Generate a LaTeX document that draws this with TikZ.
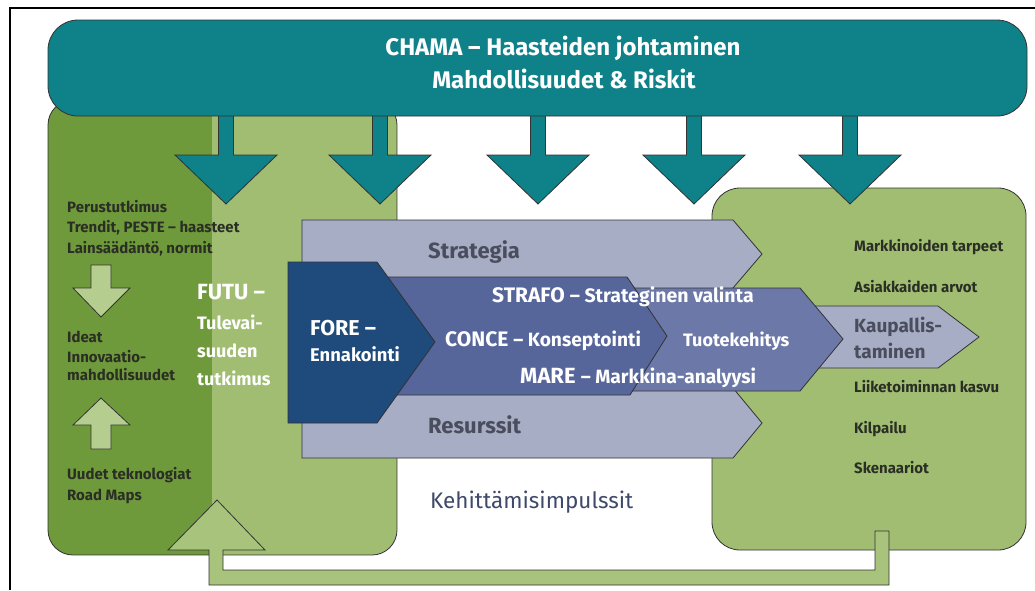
\documentclass[tikz,border=0pt]{standalone}
\usepackage{fontspec}
\setmainfont{Fira Sans}
\definecolor{teal}{HTML}{0E8189}
\definecolor{darkgreen}{HTML}{6F9A3C}
\definecolor{lightgreen}{HTML}{A0BD72}
\definecolor{loopgreen}{HTML}{A8C47C}
\definecolor{pale}{HTML}{B5CE8F}
\definecolor{greyblue}{HTML}{A8ADC6}
\definecolor{foreblue}{HTML}{1E4A7C}
\definecolor{conceblue}{HTML}{56669B}
\definecolor{tuoteblue}{HTML}{6C79A8}
\definecolor{ink}{HTML}{2A2E24}
\definecolor{slate}{HTML}{4A4D5C}
\definecolor{impulse}{HTML}{3F4A6A}
\newcommand\fsz[1]{\fontsize{#1}{#1}\selectfont}
\begin{document}
\begin{tikzpicture}[x=1pt,y=-1pt,
  outline/.style={draw=black!80,line width=0.8pt},
  txt/.style={inner sep=0pt,anchor=base west,font=\bfseries},
  wtxt/.style={txt,text=white},
  listtxt/.style={txt,text=ink,font=\bfseries\fsz{15}},
  drop/.style={outline,fill=teal}]
\useasboundingbox (0,0) rectangle (1035,590);
\fill[white] (0,0) rectangle (1035,590);
% outer frame
\draw[line width=2pt] (10,590) -- (10,8) -- (1035,8);

% left research box: dark strip and light part
\begin{scope}
  \clip[rounded corners=25pt] (48,100) rectangle (397,555);
  \fill[lightgreen] (48,100) rectangle (397,555);
  \fill[darkgreen] (48,100) rectangle (212,555);
\end{scope}
\draw[outline,rounded corners=25pt] (48,100) rectangle (397,555);

% right market box
\draw[outline,fill=lightgreen,rounded corners=28pt] (712,188) rectangle (1026,550);

% feedback loop arrow
\draw[outline,fill=loopgreen] (875,531) -- (889,531) -- (889,585) -- (209,585)
  -- (209,550) -- (168,550) -- (217,500) -- (265,550) -- (223,550) -- (223,570)
  -- (875,570) -- cycle;

% small arrows in the left box
\draw[outline,fill=pale] (91,265) -- (111,265) -- (111,288) -- (130,288) -- (101,317)
  -- (73,288) -- (91,288) -- cycle;
\draw[outline,fill=pale] (91,449) -- (111,449) -- (111,425) -- (130,425) -- (101,398)
  -- (73,425) -- (91,425) -- cycle;

% strategy / resources double chevron
\draw[outline,fill=greyblue] (302,220) -- (733,220) -- (762,254) -- (733,288)
  -- (733,388) -- (762,423) -- (733,458) -- (302,458) -- cycle;
% commercialisation chevron
\draw[outline,fill=greyblue] (790,306) -- (938,306) -- (979,337) -- (938,368) -- (790,368) -- cycle;
% product development chevron
\draw[outline,fill=tuoteblue] (620,288) -- (800,288) -- (843,339) -- (800,391) -- (620,391) -- cycle;
% concept chevron
\draw[outline,fill=conceblue] (380,277) -- (627,277) -- (667,336) -- (630,395) -- (380,395) -- cycle;
% foresight chevron
\draw[outline,fill=foreblue] (288,262) -- (377,262) -- (435,342) -- (377,423) -- (288,423) -- cycle;

% arrows from the challenge management banner
\foreach \cx in {226,380,538,694,850}{
  \draw[drop] (\cx-7.5,100) -- (\cx+7.5,100) -- (\cx+7.5,155) -- (\cx+51,155)
    -- (\cx,204) -- (\cx-51,155) -- (\cx-7.5,155) -- cycle;
}
% banner
\draw[outline,fill=teal,rounded corners=30pt] (48,20) rectangle (1027,116);

% banner texts
\node[inner sep=0pt,anchor=base,text=white,font=\bfseries\fsz{24}] (chama) at (563,55) {CHAMA – Haasteiden johtaminen};
\node[inner sep=0pt,anchor=base,text=white,font=\bfseries\fsz{24}] (mahd) at (564,88) {Mahdollisuudet \& Riskit};

% left box texts
\node[listtxt] (perus) at (67,212) {Perustutkimus};
\node[listtxt] (trend) at (67,232) {Trendit, PESTE – haasteet};
\node[listtxt] (laki) at (67,253) {Lainsäädäntö, normit};
\node[listtxt] (ideat) at (67,342) {Ideat};
\node[listtxt] (innov) at (67,362) {Innovaatio-};
\node[listtxt] (mahdol) at (67,380) {mahdollisuudet};
\node[listtxt] (uudet) at (67,479) {Uudet teknologiat};
\node[listtxt] (road) at (67,500) {Road Maps};

\node[wtxt,font=\bfseries\fsz{22}] (futu) at (197,299) {FUTU –};
\node[wtxt,font=\bfseries\fsz{18}] (tule) at (197,329) {Tulevai-};
\node[wtxt,font=\bfseries\fsz{18}] (suud) at (197,357) {suuden};
\node[wtxt,font=\bfseries\fsz{18}] (tutk) at (197,385) {tutkimus};

% chevron texts
\node[txt,text=slate,font=\bfseries\fsz{22}] (strat) at (428,258) {Strategia};
\node[txt,text=slate,font=\bfseries\fsz{22}] (resu) at (428,433) {Resurssit};
\node[wtxt,font=\bfseries\fsz{21.5}] (fore) at (310,335) {FORE –};
\node[wtxt,font=\bfseries\fsz{18.4}] (ennak) at (310,361) {Ennakointi};
\node[wtxt] (strafo) at (492,302) {\fsz{21}STRAFO \fsz{19.5}– Strateginen valinta};
\node[wtxt] (conce) at (445,346) {\fsz{21}CONCE \fsz{19.2}– Konseptointi};
\node[wtxt,font=\bfseries\fsz{18}] (tuote) at (683,346) {Tuotekehitys};
\node[wtxt] (mare) at (520,383) {\fsz{22}MARE \fsz{19.2}– Markkina-analyysi};
\node[txt,text=slate,font=\bfseries\fsz{19}] (kaup1) at (854,332) {Kaupallis-};
\node[txt,text=slate,font=\bfseries\fsz{19}] (kaup2) at (854,358) {taminen};

% right box texts
\node[listtxt] (markk) at (854,251) {Markkinoiden tarpeet};
\node[listtxt] (asiak) at (854,292) {Asiakkaiden arvot};
\node[listtxt] (liike) at (854,392) {Liiketoiminnan kasvu};
\node[listtxt] (kilp) at (854,433) {Kilpailu};
\node[listtxt] (sken) at (854,473) {Skenaariot};

% development impulses label
\node[txt,text=impulse,font=\fsz{22.5}] (kehi) at (430,508) {Kehittämisimpulssit};
\end{tikzpicture}
\end{document}
